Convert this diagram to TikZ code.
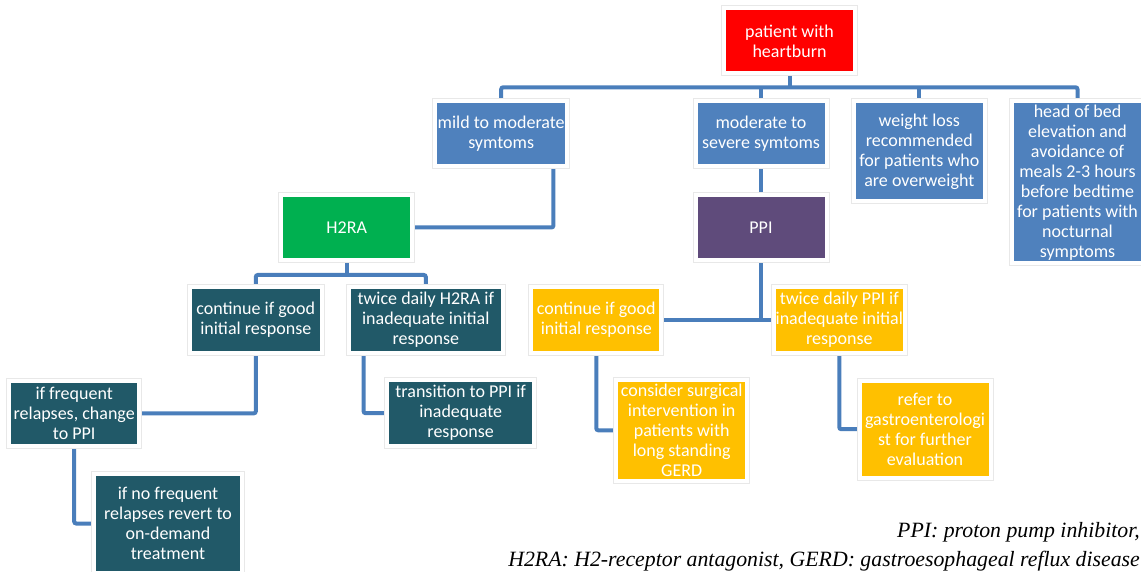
\documentclass[tikz,border=0pt]{standalone}
\usepackage{fontspec}
\setmainfont{Carlito}
\newfontfamily\capfont{Liberation Serif}
\usetikzlibrary{backgrounds}
\definecolor{cRed}{HTML}{FF0000}
\definecolor{cBlue}{HTML}{4F81BD}
\definecolor{cGreen}{HTML}{00B050}
\definecolor{cPurple}{HTML}{5F4B7B}
\definecolor{cTeal}{HTML}{215968}
\definecolor{cYellow}{HTML}{FFC000}
\definecolor{cLine}{HTML}{4A7EBB}
\tikzset{
  box/.style={rectangle, inner sep=0pt, text=white, align=center,
    font=\fontsize{18}{20}\selectfont,
    preaction={draw=black!9, line width=10pt},
    preaction={draw=white, line width=8pt}},
  redbox/.style={box, fill=cRed},
  bluebox/.style={box, fill=cBlue},
  greenbox/.style={box, fill=cGreen},
  purplebox/.style={box, fill=cPurple},
  tealbox/.style={box, fill=cTeal},
  yellowbox/.style={box, fill=cYellow},
  conn/.style={draw=cLine, line width=4pt, rounded corners=2pt},
  captext/.style={font=\capfont\itshape\fontsize{21.8}{24}\selectfont, inner sep=0pt, anchor=base east}
}
\begin{document}
\begin{tikzpicture}[x=1pt,y=-1pt]
\useasboundingbox (0,0) rectangle (1141,572);
\node[redbox, minimum width=127pt, minimum height=61pt] (top) at (789.5,41) {patient with\\heartburn};
\node[bluebox, minimum width=128pt, minimum height=61pt] (mild) at (501.2,133.8) {mild to moderate\\symtoms};
\node[bluebox, minimum width=127pt, minimum height=61pt] (mod) at (761,133.8) {moderate to\\severe symtoms};
\node[bluebox, minimum width=127pt, minimum height=96pt] (wl) at (919.3,151.3) {weight loss\\recommended\\for patients who\\are overweight};
\node[bluebox, minimum width=127pt, minimum height=158pt] (hob) at (1077.5,182.5) {head of bed\\elevation and\\avoidance of\\meals 2-3 hours\\before bedtime\\for patients with\\nocturnal\\symptoms};
\node[greenbox, minimum width=127pt, minimum height=61.6pt] (h2ra) at (346.7,227.5) {H2RA};
\node[purplebox, minimum width=127pt, minimum height=61.6pt] (ppi) at (761,227.5) {PPI};
\node[tealbox, minimum width=127.6pt, minimum height=61.4pt] (hcont) at (255.8,320) {continue if good\\initial response};
\node[tealbox, minimum width=150pt, minimum height=61.4pt] (htwice) at (425.8,320) {twice daily H2RA if\\inadequate initial\\response};
\node[yellowbox, minimum width=126pt, minimum height=61.4pt] (pcont) at (596.3,320) {continue if good\\initial response};
\node[yellowbox, minimum width=126.7pt, minimum height=61.4pt] (ptwice) at (839.3,320) {twice daily PPI if\\inadequate initial\\response};
\node[tealbox, minimum width=126.3pt, minimum height=61.3pt] (hfreq) at (74.2,413.3) {if frequent\\relapses, change\\to PPI};
\node[tealbox, minimum width=142.7pt, minimum height=61.7pt] (htrans) at (460.7,413.2) {transition to PPI if\\inadequate\\response};
\node[tealbox, minimum width=144pt, minimum height=95pt] (hnofreq) at (168,523.5) {if no frequent\\relapses revert to\\on-demand\\treatment};
\node[yellowbox, minimum width=126.7pt, minimum height=97.3pt] (pcons) at (681.7,430.3) {consider surgical\\intervention in\\patients with\\long standing\\GERD};
\node[yellowbox, minimum width=127pt, minimum height=93pt] (pref) at (925,429.2) {refer to\\gastroenterologi\\st for further\\evaluation};
\node[captext] (cap1) at (1140,537.5) {PPI: proton pump inhibitor,};
\node[captext] (cap2) at (1140,566) {H2RA: H2-receptor antagonist, GERD: gastroesophageal reflux disease};
\coordinate (bus) at (789.5,87.3);
\coordinate (hbus) at (346.7,275);
\begin{pgfonlayer}{background}
\draw[conn] (top.south) -- (bus);
\draw[conn] (mild.north) |- (bus) -| (hob.north);
\draw[conn] (mod.north) -- (mod.north |- bus);
\draw[conn] (wl.north) -- (wl.north |- bus);
\draw[conn] ([xshift=-12pt]mild.south east) |- (h2ra.east);
\draw[conn] (mod.south) -- (ppi.north);
\draw[conn] (h2ra.south) -- (hbus);
\draw[conn] (hcont.north) |- (hbus) -| (htwice.north);
\draw[conn] (ppi.south) -- (ppi.south |- pcont.east);
\draw[conn] (pcont.east) -- (ptwice.west);
\draw[conn] (hcont.south) |- (hfreq.east);
\draw[conn] (hfreq.south) |- (hnofreq.west);
\draw[conn] ([xshift=13pt]htwice.south west) |- (htrans.west);
\draw[conn] (pcont.south) |- (pcons.west);
\draw[conn] (ptwice.south) |- (pref.west);
\end{pgfonlayer}
\end{tikzpicture}
\end{document}
